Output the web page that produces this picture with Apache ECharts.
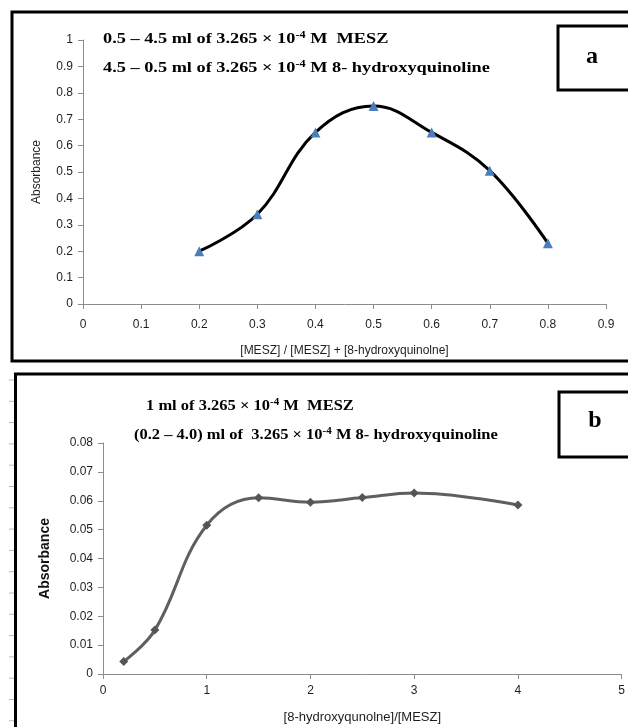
<!DOCTYPE html>
<html>
<head>
<meta charset="utf-8">
<script src="https://cdn.jsdelivr.net/npm/echarts@6/dist/echarts.min.js"></script>
<style>
  html, body { margin: 0; padding: 0; background: #fff; }
  #chart { width: 628px; height: 727px; }
</style>
</head>
<body>
<div id="chart"></div>
<script>
// Panel a: continuous variation (Job's method)
const moleFraction = [0.2, 0.3, 0.4, 0.5, 0.6, 0.7, 0.8];
const absorbanceA = [0.20, 0.34, 0.65, 0.75, 0.65, 0.505, 0.23];

// Panel b: mole ratio method
const ligandRatio = [0.2, 0.5, 1, 1.5, 2, 2.5, 3, 4];
const absorbanceB = [0.0043, 0.0152, 0.0515, 0.061, 0.0595, 0.0611, 0.0627, 0.0585];

const xTicksA = [0, 0.1, 0.2, 0.3, 0.4, 0.5, 0.6, 0.7, 0.8, 0.9];
const yTicksA = [0, 0.1, 0.2, 0.3, 0.4, 0.5, 0.6, 0.7, 0.8, 0.9, 1];
const xTicksB = [0, 1, 2, 3, 4, 5];
const yTicksB = [0, 0.01, 0.02, 0.03, 0.04, 0.05, 0.06, 0.07, 0.08];

const sans = '"Liberation Sans", Arial, sans-serif';
const serif = '"Liberation Serif", "Times New Roman", serif';
const axisGray = '#8c8c8c';
const labelColor = '#1e1e1e';

function pairs(xs, ys) { return xs.map((x, i) => [x, ys[i]]); }

function axisCommon(min, max, interval, ticks, margin) {
  return {
    type: 'value', min: min, max: max, interval: interval,
    axisLine: { show: true, lineStyle: { color: axisGray, width: 1 } },
    axisTick: { show: true, inside: false, length: 5, lineStyle: { color: axisGray } },
    splitLine: { show: false },
    axisLabel: {
      color: labelColor, fontFamily: sans, fontSize: 12, margin: margin,
      formatter: v => {
        const t = ticks.find(k => Math.abs(k - v) < 1e-9);
        return t === undefined ? '' : String(t);
      }
    }
  };
}

// Rich text styles for headings with a superscript exponent
const headRich = {
  t: { fontFamily: serif, fontWeight: 'bold', fontSize: 15, color: '#111', lineHeight: 18 },
  s: { fontFamily: serif, fontWeight: 'bold', fontSize: 10, color: '#111', lineHeight: 18, padding: [0, 0, 7, 0] }
};

function heading(x, y, text, stretch) {
  return {
    type: 'text', x: x, y: y, scaleX: stretch, originX: 0, originY: 0,
    style: { text: text, rich: headRich, verticalAlign: 'middle' }, z: 11
  };
}

const graphics = [
  // frame of panel a
  { type: 'rect', shape: { x: 12, y: 12, width: 640, height: 349 }, style: { fill: 'none', stroke: '#000', lineWidth: 3 }, z: 10 },
  // frame of panel b
  { type: 'rect', shape: { x: 15.5, y: 374, width: 640, height: 400 }, style: { fill: 'none', stroke: '#000', lineWidth: 3 }, z: 10 },
  // label boxes
  { type: 'rect', shape: { x: 558, y: 26, width: 100, height: 64 }, style: { fill: '#fff', stroke: '#000', lineWidth: 3 }, z: 10 },
  { type: 'text', x: 592, y: 57, style: { text: 'a', font: 'bold 24px ' + serif, fill: '#000', align: 'center', verticalAlign: 'middle' }, z: 11 },
  { type: 'rect', shape: { x: 559, y: 392, width: 100, height: 65 }, style: { fill: '#fff', stroke: '#000', lineWidth: 3 }, z: 10 },
  { type: 'text', x: 595, y: 421, style: { text: 'b', font: 'bold 24px ' + serif, fill: '#000', align: 'center', verticalAlign: 'middle' }, z: 11 },
  // headings of panel a
  heading(103, 39, '{t|0.5 – 4.5 ml of 3.265 × 10}{s|-4}{t| M  MESZ}', 1.22),
  heading(103, 68, '{t|4.5 – 0.5 ml of 3.265 × 10}{s|-4}{t| M 8- hydroxyquinoline}', 1.22),
  // headings of panel b
  heading(146, 406, '{t|1 ml of 3.265 × 10}{s|-4}{t| M  MESZ}', 1.1),
  heading(134, 435, '{t|(0.2 – 4.0) ml of  3.265 × 10}{s|-4}{t| M 8- hydroxyquinoline}', 1.1)
];

// faint ruler marks along the left margin of panel b
for (let k = 0; k < 17; k++) {
  const y = 380 + k * 21.3;
  graphics.push({ type: 'line', shape: { x1: 9, y1: y, x2: 14, y2: y }, style: { stroke: '#b8b8b8', lineWidth: 1 }, z: 9 });
}

const option = {
  backgroundColor: '#fff',
  animation: false,
  grid: [
    { left: 83, right: 22, top: 40, bottom: 423, containLabel: false },
    { left: 103, right: 1, top: 443, bottom: 53, containLabel: false }
  ],
  xAxis: [
    Object.assign(axisCommon(0, 0.9, 0.1, xTicksA, 15), {
      gridIndex: 0, name: '[MESZ] / [MESZ] + [8-hydroxyquinolne]', nameLocation: 'middle', nameGap: 41,
      nameTextStyle: { color: labelColor, fontFamily: sans, fontSize: 12 }
    }),
    Object.assign(axisCommon(0, 5, 1, xTicksB, 11), {
      gridIndex: 1, name: '[8-hydroxyqunolne]/[MESZ]', nameLocation: 'middle', nameGap: 37,
      nameTextStyle: { color: labelColor, fontFamily: sans, fontSize: 13 }
    })
  ],
  yAxis: [
    Object.assign(axisCommon(0, 1, 0.1, yTicksA, 10), {
      gridIndex: 0, name: 'Absorbance', nameLocation: 'middle', nameGap: 40, nameRotate: 90,
      nameTextStyle: { color: labelColor, fontFamily: sans, fontSize: 12 }
    }),
    Object.assign(axisCommon(0, 0.08, 0.01, yTicksB, 10), {
      gridIndex: 1, name: 'Absorbance', nameLocation: 'middle', nameGap: 51, nameRotate: 90,
      nameTextStyle: { color: '#111', fontFamily: sans, fontSize: 14, fontWeight: 'bold' }
    })
  ],
  series: [
    {
      type: 'line', xAxisIndex: 0, yAxisIndex: 0,
      data: pairs(moleFraction, absorbanceA),
      smooth: 0.4,
      lineStyle: { color: '#000', width: 3 },
      symbol: 'triangle', symbolSize: 10,
      itemStyle: { color: '#4a7ebb' },
      z: 3
    },
    {
      type: 'line', xAxisIndex: 1, yAxisIndex: 1,
      data: pairs(ligandRatio, absorbanceB),
      smooth: 0.4,
      lineStyle: { color: '#5f5f5f', width: 3 },
      symbol: 'diamond', symbolSize: 9,
      itemStyle: { color: '#555' },
      z: 3
    }
  ],
  graphic: graphics
};

const chart = echarts.init(document.getElementById('chart'), null, { renderer: 'canvas' });
chart.setOption(option);
</script>
</body>
</html>
